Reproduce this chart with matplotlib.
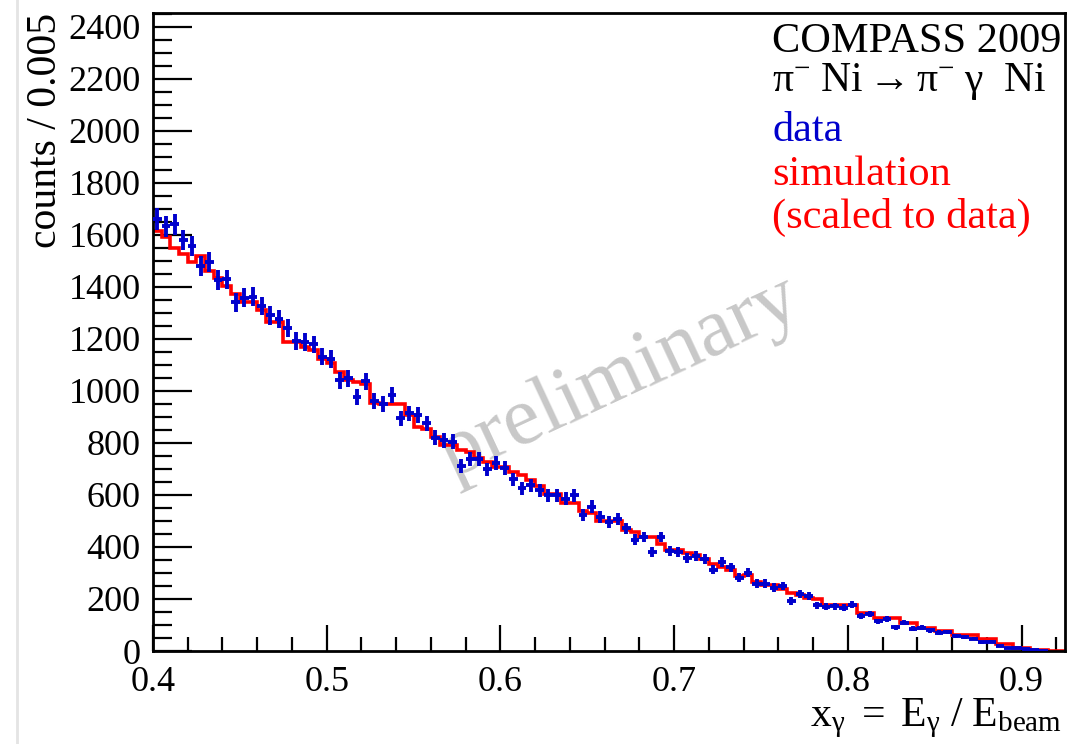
import numpy as np
import matplotlib
matplotlib.use("Agg")
import matplotlib.pyplot as plt
from matplotlib.ticker import MultipleLocator, FormatStrFormatter

# binning: 0.005 wide from 0.4 to 0.925
bin_lo = 0.4
bin_w = 0.005

# measured counts per bin (data)
data_counts = [
    1660, 1633, 1640, 1580, 1557, 1481, 1495, 1426, 1428, 1340,
    1358, 1362, 1326, 1290, 1276, 1242, 1190, 1188, 1178, 1131,
    1123, 1041, 1048, 977, 1037, 960, 951, 983, 894, 913,
    906, 875, 819, 810, 804, 710, 737, 737, 698, 721,
    704, 660, 625, 637, 618, 599, 599, 586, 599, 522,
    555, 515, 496, 507, 471, 428, 438, 381, 438, 383,
    381, 358, 364, 355, 313, 342, 321, 282, 300, 259,
    259, 244, 250, 192, 218, 212, 176, 171, 172, 167,
    178, 135, 141, 114, 123, 92, 109, 86, 90, 80,
    71, 72, 58, 53, 48, 33, 35, 19, 13, 12,
    8, 3, 1, 0, 0,
]

# simulation, scaled to data
sim_counts = [
    1615, 1592, 1548, 1526, 1496, 1518, 1462, 1432, 1403, 1372,
    1342, 1342, 1310, 1265, 1265, 1188, 1188, 1169, 1156, 1124,
    1105, 1073, 1041, 1035, 1028, 955, 949, 949, 949, 906,
    862, 852, 823, 791, 791, 772, 765, 740, 727, 708,
    708, 688, 678, 657, 633, 605, 605, 567, 567, 537,
    530, 500, 498, 500, 464, 458, 438, 438, 410, 390,
    390, 378, 370, 355, 336, 323, 310, 287, 291, 265,
    253, 253, 240, 221, 214, 205, 201, 178, 178, 178,
    178, 146, 146, 127, 127, 127, 109, 109, 90, 90,
    77, 77, 63, 63, 63, 45, 45, 28, 28, 13,
    13, 3, 3, 0, 0,
]

y_ticks = list(range(0, 2401, 200))
x_ticks = [0.4, 0.5, 0.6, 0.7, 0.8, 0.9]

plt.rcParams["font.family"] = ["Liberation Serif", "DejaVu Serif"]
plt.rcParams["mathtext.fontset"] = "custom"
plt.rcParams["mathtext.rm"] = "Liberation Serif"
plt.rcParams["mathtext.it"] = "Liberation Serif:italic"

W, H = 1084, 744
fig = plt.figure(figsize=(W / 100, H / 100), dpi=100)
ax = fig.add_axes([153 / W, (H - 651) / H, (1065 - 153) / W, (651 - 13) / H])

n = len(data_counts)
edges = bin_lo + bin_w * np.arange(n + 1)
centers = edges[:-1] + bin_w / 2
data = np.array(data_counts, dtype=float)
sim = np.array(sim_counts, dtype=float)

# simulation histogram
ax.stairs(sim, edges, baseline=None, color="#ff0000", lw=2.6, zorder=2)

# data points with errors
keep = data > 0
ax.errorbar(centers[keep], data[keep], yerr=np.sqrt(data[keep]),
            xerr=bin_w / 2, fmt="none", ecolor="#0000cc",
            elinewidth=2.8, capsize=0, zorder=3)

ax.set_xlim(0.4, 0.925)
ax.set_ylim(0, 2452)

ax.set_xticks(x_ticks)
ax.set_yticks(y_ticks)
ax.xaxis.set_major_formatter(FormatStrFormatter("%.1f"))
ax.xaxis.set_minor_locator(MultipleLocator(0.02))
ax.yaxis.set_minor_locator(MultipleLocator(50))
ax.tick_params(axis="y", which="major", direction="in", length=28, width=1.6,
               labelsize=26, pad=9)
ax.tick_params(axis="y", which="minor", direction="in", length=14, width=1.6)
ax.tick_params(axis="x", which="major", direction="in", length=19, width=1.6,
               labelsize=26, pad=11)
ax.tick_params(axis="x", which="minor", direction="in", length=10, width=1.6)
for sp in ax.spines.values():
    sp.set_linewidth(2)

# axis titles, ROOT style (at the far ends)
fig.text(46 / W, 1 - 13 / H, "counts / 0.005", rotation=90, fontsize=30,
         ha="center", va="top")
fig.text(1062 / W, 1 - 726 / H,
         r"$\mathrm{x_{\gamma}\ =\ E_{\gamma}\ /\ E_{beam}}$",
         fontsize=30, ha="right", va="baseline")

# labels in the top right corner
tx = 772 / W
fig.text(tx, 1 - 52 / H, "COMPASS 2009", fontsize=30.5, color="black", va="baseline")
fig.text(tx, 1 - 91 / H,
         r"$\mathrm{\pi^{-}\ Ni \rightarrow \pi^{-}\ \gamma\ \ Ni}$",
         fontsize=30, color="black", va="baseline")
fig.text(tx, 1 - 141 / H, "data", fontsize=30.5, color="#0000cc", va="baseline")
fig.text(tx, 1 - 185 / H, "simulation", fontsize=30.5, color="#ff0000", va="baseline")
fig.text(tx, 1 - 228 / H, "(scaled to data)", fontsize=30.5, color="#ff0000",
         va="baseline")

# watermark
ax.text(0.669, 1050, "preliminary", fontsize=60, color="#c8c8c8",
        rotation=25, ha="center", va="center", zorder=1)

# faint line at the left margin of the original screenshot
fig.add_artist(plt.Line2D([17 / W, 17 / W], [0, 1], color="#e4e4e4", lw=2))

fig.savefig("out.png", dpi=100)
